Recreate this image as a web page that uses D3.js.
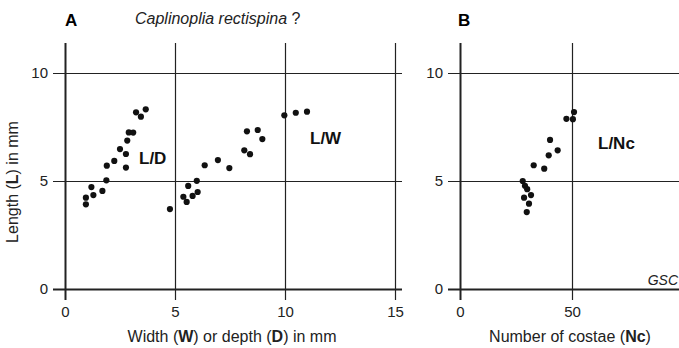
<!DOCTYPE html>
<html>
<head>
<meta charset="utf-8">
<script src="https://cdn.jsdelivr.net/npm/d3@7"></script>
<style>
  body { margin: 0; background: #fff; }
  svg { display: block; font-family: "Liberation Sans", Arial, Helvetica, sans-serif; }
  .tick line { stroke: #222; stroke-width: 1.2; }
  .tick text { fill: #222; font-size: 15px; }
  .domain { display: none; }
</style>
</head>
<body>
<svg id="chart" width="679" height="348"></svg>
<script>
// panel A: length vs depth (L/D) and length vs width (L/W), in mm
const ldDepth  = [3.23, 3.67, 3.45, 2.90, 3.10, 2.83, 2.50, 2.77, 2.24, 1.90, 2.77, 1.88, 1.20, 1.70, 1.29, 0.95, 0.95];
const ldLength = [8.18, 8.32, 7.98, 7.25, 7.24, 6.87, 6.48, 6.25, 5.93, 5.71, 5.62, 5.03, 4.72, 4.54, 4.35, 4.23, 3.92];
const lwWidth  = [4.77, 5.38, 5.53, 5.80, 6.03, 5.60, 5.99, 6.35, 6.95, 7.47, 8.15, 8.41, 8.27, 8.76, 8.97, 9.97, 10.49, 11.0];
const lwLength = [3.70, 4.27, 4.03, 4.31, 4.49, 4.77, 5.01, 5.73, 5.97, 5.60, 6.42, 6.24, 7.30, 7.36, 6.94, 8.04, 8.16, 8.21];
// panel B: length vs number of costae
const lnCostae = [50.9, 47.5, 50.4, 40.2, 43.6, 39.6, 32.9, 37.6, 28.0, 29.0, 30.0, 31.7, 28.6, 30.8, 29.8];
const lnLength = [8.19, 7.88, 7.86, 6.90, 6.42, 6.19, 5.73, 5.57, 5.00, 4.78, 4.62, 4.35, 4.23, 3.95, 3.56];

const xTicksA = [0, 5, 10, 15];
const xTicksB = [0, 50];
const yTicks = [0, 5, 10];

const svg = d3.select("#chart");

const gridTop = 43, gridBottom = 300;

const y = d3.scaleLinear().domain([0, 10]).range([289, 73]);
const xA = d3.scaleLinear().domain([0, 15]).range([65, 395]);
const xB = d3.scaleLinear().domain([0, 100]).range([460, 684]);

function drawPanel(x, xTicks, left, right) {
    const g = svg.append("g");

    // vertical grid lines + x tick labels
    const gx = g.append("g")
        .attr("transform", "translate(0," + gridTop + ")")
        .call(d3.axisBottom(x).tickValues(xTicks).tickSize(gridBottom - gridTop).tickPadding(6));
    gx.selectAll(".tick").filter(d => d == 0).select("line").style("stroke-width", 2);

    // horizontal grid lines + y tick labels
    const gy = g.append("g")
        .attr("transform", "translate(" + right + ",0)")
        .call(d3.axisLeft(y).tickValues(yTicks).tickSize(right - left).tickPadding(5));
    gy.selectAll(".tick").filter(d => d == 0).select("line").style("stroke-width", 2);

    return g;
}

function drawDots(g, x, xs, ys) {
    g.selectAll(null)
        .data(xs.map((v, i) => [v, ys[i]]))
        .enter()
        .append("circle")
        .attr("cx", d => x(d[0]))
        .attr("cy", d => y(d[1]))
        .attr("r", 3.1)
        .style("fill", "#111");
}

const gA = drawPanel(xA, xTicksA, 53, 402);
const gB = drawPanel(xB, xTicksB, 448, 690);

drawDots(gA, xA, ldDepth, ldLength);
drawDots(gA, xA, lwWidth, lwLength);
drawDots(gB, xB, lnCostae, lnLength);

// series labels
const boldLabel = (x0, y0, t) => svg.append("text")
    .attr("x", x0).attr("y", y0)
    .attr("font-size", 17).attr("font-weight", "bold").attr("fill", "#111")
    .text(t);
boldLabel(139, 164, "L/D");
boldLabel(310, 144, "L/W");
boldLabel(598, 149, "L/Nc");

// panel letters and title
svg.append("text").attr("x", 65).attr("y", 26).attr("font-size", 17).attr("font-weight", "bold").text("A");
svg.append("text").attr("x", 458).attr("y", 26).attr("font-size", 17).attr("font-weight", "bold").text("B");
const title = svg.append("text").attr("x", 135).attr("y", 24).attr("font-size", 16).attr("fill", "#222");
title.append("tspan").attr("font-style", "italic").text("Caplinoplia rectispina");
title.append("tspan").text(" ?");

svg.append("text").attr("x", 678).attr("y", 285).attr("text-anchor", "end")
    .attr("font-size", 14).attr("font-style", "italic").attr("fill", "#222").text("GSC");

// axis titles
const xLabA = svg.append("text").attr("x", 232).attr("y", 342).attr("text-anchor", "middle")
    .attr("font-size", 16).attr("fill", "#222");
xLabA.append("tspan").text("Width (");
xLabA.append("tspan").attr("font-weight", "bold").text("W");
xLabA.append("tspan").text(") or depth (");
xLabA.append("tspan").attr("font-weight", "bold").text("D");
xLabA.append("tspan").text(") in mm");

const xLabB = svg.append("text").attr("x", 570).attr("y", 342).attr("text-anchor", "middle")
    .attr("font-size", 16).attr("fill", "#222");
xLabB.append("tspan").text("Number of costae (");
xLabB.append("tspan").attr("font-weight", "bold").text("Nc");
xLabB.append("tspan").text(")");

const yLab = svg.append("text").attr("transform", "translate(18,182) rotate(-90)")
    .attr("text-anchor", "middle").attr("font-size", 16).attr("fill", "#222");
yLab.append("tspan").text("Length (");
yLab.append("tspan").attr("font-weight", "bold").text("L");
yLab.append("tspan").text(") in mm");
</script>
</body>
</html>
